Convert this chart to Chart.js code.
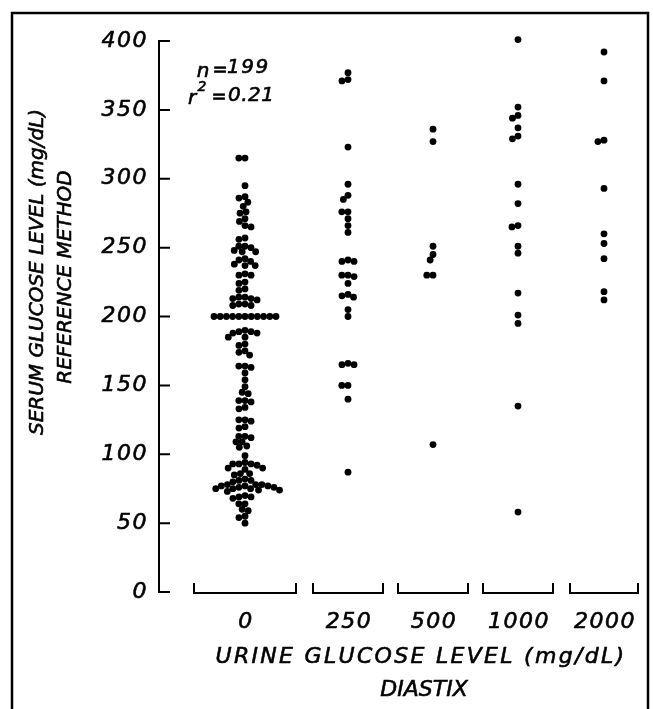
<!DOCTYPE html>
<html>
<head>
<meta charset="utf-8">
<script src="https://cdn.jsdelivr.net/npm/chart.js@4.4.1/dist/chart.umd.min.js"></script>
<style>
  body { margin: 0; background: #fff; }
  canvas { display: block; }
</style>
</head>
<body>
<canvas id="chart" width="653" height="709"></canvas>
<script>
// categories (urine glucose, Diastix) and serum glucose values
const categories = ['0', '250', '500', '1000', '2000'];
const yTicks = [0, 50, 100, 150, 200, 250, 300, 350, 400];

const serum0 = [315, 315, 295, 287, 286, 283, 280, 276, 275, 271, 269, 266, 265, 257, 256,
  251, 251, 250, 248, 247, 247, 242, 241, 240, 238, 237, 237, 231, 230, 230, 225, 224,
  220, 219, 214, 214, 213, 213, 212, 209, 209, 208, 208,
  200, 200, 200, 200, 200, 200, 200, 200, 200, 200, 200,
  190, 189, 189, 188, 188, 185, 185, 180, 179, 175, 174, 172, 164, 164, 163,
  159, 154, 149, 145, 144, 139, 139, 138, 134, 133, 125, 125, 124, 120, 119,
  113, 113, 112, 109, 109, 106, 105, 99, 94, 93, 93, 93, 92, 90, 90, 89,
  86, 86, 85, 82, 81, 81, 80, 78, 78, 78, 77, 77, 77,
  76, 76, 75, 75, 75, 74, 74, 73, 70, 69, 69, 68, 64, 64, 60, 59, 55, 54, 50];
const serum250 = [377, 372, 371, 323, 296, 288, 285, 276, 276, 271, 266, 261, 241, 240, 240,
  230, 230, 229, 224, 216, 215, 214, 205, 200, 166, 165, 165, 150, 150, 140, 87];
const serum500 = [336, 327, 251, 245, 241, 230, 230, 107];
const serum1000 = [401, 352, 346, 344, 337, 331, 329, 296, 282, 266, 265, 251, 246, 217, 201, 195, 135, 58];
const serum2000 = [392, 371, 328, 327, 293, 260, 253, 242, 218, 212];
const groups = [serum0, serum250, serum500, serum1000, serum2000];

// layout: x axis runs 0..480, group centres and bracket half widths in those units
const groupCenter = [86, 189, 274, 359, 445];
const groupHalf = [51, 35, 35, 35, 34];
const dotRadius = 3.4;
const FONT = "'DejaVu Sans', sans-serif";

function txt(ctx, s, x, y, size, spacing, align) {
  ctx.save();
  ctx.font = 'italic ' + size + 'px ' + FONT;
  ctx.letterSpacing = spacing + 'px';
  ctx.fillStyle = '#000';
  ctx.strokeStyle = '#000';
  ctx.lineWidth = 0.6;
  ctx.textAlign = align || 'center';
  ctx.textBaseline = 'middle';
  ctx.fillText(s, x, y);
  ctx.strokeText(s, x, y);
  ctx.restore();
}

const decor = {
  id: 'decor',
  beforeDraw(chart) {
    chart.ctx.letterSpacing = '1.5px';
  },
  afterDraw(chart) {
    const ctx = chart.ctx;
    const xs = chart.scales.x, ys = chart.scales.y;
    ctx.save();
    ctx.letterSpacing = '0px';
    ctx.strokeStyle = '#000';
    ctx.lineCap = 'square';

    // frame
    ctx.lineWidth = 2.5;
    ctx.strokeRect(12, 13, 636, 720);

    // y axis with inward ticks
    ctx.lineWidth = 2;
    const ax = chart.chartArea.left;
    ctx.beginPath();
    ctx.moveTo(ax, ys.getPixelForValue(400));
    ctx.lineTo(ax, ys.getPixelForValue(0));
    yTicks.forEach(t => {
      const py = ys.getPixelForValue(t);
      ctx.moveTo(ax, py);
      ctx.lineTo(ax + 10, py);
    });
    ctx.stroke();

    // brackets under each group
    const by = ys.getPixelForValue(0) + 1;
    ctx.beginPath();
    groupCenter.forEach((c, i) => {
      const x0 = xs.getPixelForValue(c - groupHalf[i]);
      const x1 = xs.getPixelForValue(c + groupHalf[i]);
      ctx.moveTo(x0, by - 9);
      ctx.lineTo(x0, by);
      ctx.lineTo(x1, by);
      ctx.lineTo(x1, by - 9);
    });
    ctx.stroke();
    ctx.restore();

    // category labels
    categories.forEach((c, i) => {
      txt(ctx, c, xs.getPixelForValue(groupCenter[i]) + 1, 622, 22, 1.5);
    });

    // axis titles
    txt(ctx, 'URINE GLUCOSE LEVEL (mg/dL)', 421, 657, 22, 2.3);
    txt(ctx, 'DIASTIX', 424, 690, 22, 0);
    ctx.save();
    ctx.translate(38, 272);
    ctx.rotate(-Math.PI / 2);
    txt(ctx, 'SERUM GLUCOSE LEVEL (mg/dL)', 0, 0, 20, 0);
    ctx.restore();
    ctx.save();
    ctx.translate(66, 277);
    ctx.rotate(-Math.PI / 2);
    txt(ctx, 'REFERENCE METHOD', 0, 0, 20, 0);
    ctx.restore();

    // annotation
    txt(ctx, 'n', 203, 72, 20, 0);
    txt(ctx, '=', 220, 70, 18, 0);
    txt(ctx, '199', 227, 68, 20, 1.5, 'left');
    txt(ctx, 'r', 192, 99, 20, 0);
    txt(ctx, '2', 202, 87, 14, 0);
    txt(ctx, '=', 219, 97, 18, 0);
    txt(ctx, '0.21', 228, 96, 20, 0.5, 'left');
  }
};

// spread the dots of one group sideways so they don't sit on top of each other
function swarm(chart) {
  const xs = chart.scales.x, ys = chart.scales.y;
  const pxPerUnit = (xs.right - xs.left) / (xs.max - xs.min);
  const d = 6.2;
  groups.forEach((vals, i) => {
    const placed = [];
    const sorted = vals.slice().sort((a, b) => b - a);
    chart.data.datasets[i].data = sorted.map(v => {
      const py = ys.getPixelForValue(v);
      const iv = [];
      placed.forEach(p => {
        const dy = Math.abs(p.y - py);
        if (dy < d) {
          const w = Math.sqrt(d * d - dy * dy);
          iv.push([p.x - w, p.x + w]);
        }
      });
      const cands = [0];
      iv.forEach(([a, b]) => cands.push(a, b));
      cands.sort((a, b) => Math.abs(a) - Math.abs(b));
      const px = cands.find(c => iv.every(([a, b]) => c <= a + 1e-6 || c >= b - 1e-6));
      placed.push({ x: px, y: py });
      return { x: groupCenter[i] + px / pxPerUnit, y: v };
    });
  });
  chart.update('none');
}

const ctx = document.getElementById('chart').getContext('2d');
const chart = new Chart(ctx, {
  type: 'scatter',
  data: {
    datasets: groups.map((vals, i) => ({
      label: categories[i],
      data: vals.map(v => ({ x: groupCenter[i], y: v })),
      backgroundColor: '#000',
      borderColor: '#000',
      borderWidth: 0,
      pointRadius: dotRadius,
      clip: false
    }))
  },
  options: {
    responsive: false,
    animation: false,
    devicePixelRatio: 1,
    layout: { padding: { top: 41, bottom: 117, left: 0, right: 14 } },
    plugins: { legend: { display: false }, tooltip: { enabled: false } },
    scales: {
      x: { type: 'linear', min: 0, max: 480, display: false },
      y: {
        min: 0, max: 400,
        afterFit: s => { s.width = 159; },
        afterBuildTicks: s => { s.ticks = yTicks.map(v => ({ value: v })); },
        grid: { display: false, drawTicks: false },
        border: { display: false },
        ticks: {
          padding: 11,
          color: '#000',
          textStrokeColor: '#000',
          textStrokeWidth: 0.6,
          font: { family: FONT, size: 22, style: 'italic' }
        }
      }
    }
  },
  plugins: [decor]
});
swarm(chart);
</script>
</body>
</html>
